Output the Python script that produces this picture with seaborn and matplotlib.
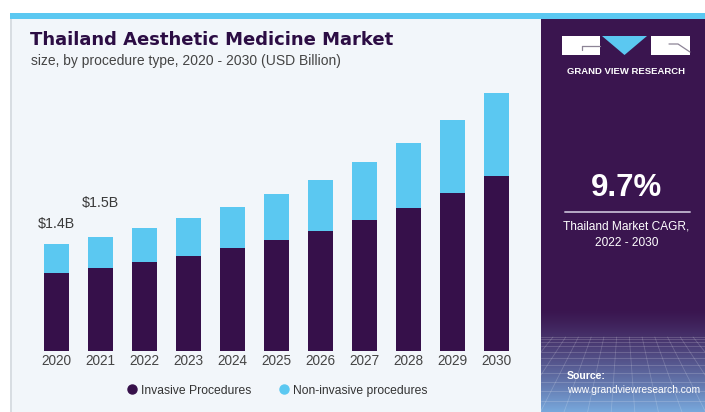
import numpy as np
import pandas as pd
import matplotlib
matplotlib.use("Agg")
import matplotlib.pyplot as plt
from matplotlib.patches import Rectangle, Polygon
from matplotlib.lines import Line2D
from matplotlib.colors import to_rgb
import seaborn as sns

# ---- data (USD Billion) ----
years = ["2020", "2021", "2022", "2023", "2024", "2025",
         "2026", "2027", "2028", "2029", "2030"]
invasive = [1.02, 1.09, 1.17, 1.25, 1.35, 1.46, 1.58, 1.72, 1.88, 2.08, 2.30]
non_invasive = [0.38, 0.41, 0.45, 0.50, 0.54, 0.60, 0.67, 0.76, 0.85, 0.96, 1.09]
series_names = ["Invasive Procedures", "Non-invasive procedures"]
value_labels = {"2020": "$1.4B", "2021": "$1.5B"}
cagr_text = "9.7%"
cagr_caption = "Thailand Market CAGR,\n2022 - 2030"

# ---- colours ----
DARK = "#36104a"
CYAN = "#5bc8f1"
PANEL = "#3a154f"
LIGHT_BG = "#f2f6fa"

sns.set_theme(style="white")
plt.rcParams["font.family"] = ["Liberation Sans", "DejaVu Sans"]

W, H = 705, 412
fig = plt.figure(figsize=(W / 100, H / 100), dpi=100)
fig.patch.set_facecolor("white")


def frac_box(x0, y0, x1, y1):
    """Pixel box measured from the top-left corner -> figure fraction rect."""
    return [x0 / W, 1 - y1 / H, (x1 - x0) / W, (y1 - y0) / H]


# background panels
fig.add_artist(Rectangle((10 / W, 0), (541 - 10) / W, (H - 19) / H,
                         transform=fig.transFigure, facecolor=LIGHT_BG,
                         edgecolor="none", zorder=-10))
fig.add_artist(Line2D([10.5 / W, 10.5 / W], [0, 1 - 19 / H],
                      transform=fig.transFigure, color="#d3d8de", lw=1.2,
                      zorder=-9))
fig.add_artist(Rectangle((10 / W, 1 - 19 / H), (W - 10) / W, 6 / H,
                         transform=fig.transFigure, facecolor=CYAN,
                         edgecolor="none", zorder=-8))

# ---- main stacked bar chart ----
df = pd.DataFrame({"year": years,
                   series_names[0]: invasive,
                   series_names[1]: non_invasive})
df["total"] = df[series_names[0]] + df[series_names[1]]

ax = fig.add_axes([34.2 / W, (H - 350.7) / H, 484 / W, 3.6 * 76 / H])
ax.set_facecolor("none")
sns.barplot(data=df, x="year", y="total", color=CYAN, saturation=1,
            width=0.576, linewidth=0, ax=ax)
sns.barplot(data=df, x="year", y=series_names[0], color=DARK, saturation=1,
            width=0.576, linewidth=0, ax=ax)
ax.set_xlim(-0.5, len(years) - 0.5)
ax.set_ylim(0, 3.6)
ax.set_yticks([])
ax.set_xlabel("")
ax.set_ylabel("")
sns.despine(ax=ax, left=True, bottom=True)
ax.tick_params(axis="x", length=0, pad=2.5, labelsize=9.8,
               labelcolor="#454545")

label_offsets = {"2020": 14.6, "2021": 24.5}
for yr, txt in value_labels.items():
    i = years.index(yr)
    ax.annotate(txt, (i, df["total"].iloc[i]), xytext=(0, label_offsets[yr]),
                textcoords="offset points", ha="center", va="center",
                fontsize=10.3, color="#3a3a3a")

# titles
fig.text(30 / W, 1 - 45 / H, "Thailand Aesthetic Medicine Market",
         fontsize=13, fontweight="bold", family="DejaVu Sans",
         color="#2c0d44", va="baseline")
fig.text(31 / W, 1 - 65.5 / H,
         "size, by procedure type, 2020 - 2030 (USD Billion)",
         fontsize=10, color="#444444", va="baseline")

# legend
handles = [Line2D([], [], marker="o", ls="", markersize=6.5,
                  markerfacecolor=c, markeredgecolor=c)
           for c in (DARK, CYAN)]
fig.legend(handles, series_names, loc="center",
           bbox_to_anchor=(277 / W, 1 - 390.7 / H), ncol=2, frameon=False,
           fontsize=8.7, handletextpad=0.25, columnspacing=2.2,
           handlelength=1.0, labelcolor="#333333")

# ---- right information panel ----
rp = fig.add_axes(frac_box(541, 19, 705, 412))
rp.set_xlim(0, 164)
rp.set_ylim(393, 0)
rp.axis("off")
rp.add_patch(Rectangle((0, 0), 164, 393, facecolor=PANEL, edgecolor="none",
                       zorder=0))

# bottom glow with perspective grid
ramp = np.linspace(0, 1, 200)[:, None] ** 1.25
c0, c1 = np.array(to_rgb(PANEL)), np.array(to_rgb("#78a8dc"))
img = c0[None, None, :] + (c1 - c0)[None, None, :] * ramp[:, :, None]
rp.imshow(img, extent=[0, 164, 393, 290], aspect="auto", zorder=1)
horizon = 318
for k in range(12):
    yy = horizon + 75 * (k / 11) ** 1.6
    rp.plot([0, 164], [yy, yy], color="white", lw=0.6, alpha=0.2, zorder=2)
vx, vy = 82, 230
for xb in np.linspace(-260, 424, 30):
    t0 = (horizon - vy) / (393 - vy)
    rp.plot([vx + (xb - vx) * t0, xb], [horizon, 393], color="white",
            lw=0.6, alpha=0.18, zorder=2)

# logo
logo_top, logo_bot = 17, 36
rp.add_patch(Rectangle((21, logo_top), 38, logo_bot - logo_top,
                       facecolor="white", edgecolor="none", zorder=3))
rp.plot([41, 59], [27, 27], color="#8d8496", lw=0.9, zorder=4)
rp.plot([41, 41], [27, 31], color="#8d8496", lw=0.9, zorder=4)
rp.add_patch(Polygon([[61, logo_top], [106, logo_top], [83.5, logo_bot]],
                     closed=True, facecolor=CYAN, edgecolor="none", zorder=3))
rp.add_patch(Rectangle((110, logo_top), 39, logo_bot - logo_top,
                       facecolor="white", edgecolor="none", zorder=3))
rp.plot([128, 137, 149], [25, 25, 33], color="#8d8496", lw=0.9, zorder=4)
rp.text(85, 52, "GRAND VIEW RESEARCH", color="white", fontsize=6.8,
        fontweight="bold", ha="center", va="center", zorder=5)

# CAGR block
rp.text(85.5, 169, cagr_text, color="white", fontsize=22.5, fontweight="bold",
        ha="center", va="center", zorder=5)
rp.plot([24, 149], [192.7, 192.7], color="#b7abc6", lw=1.4, zorder=5)
rp.text(85.5, 216, cagr_caption, color="white", fontsize=8.6,
        ha="center", va="center", linespacing=1.45, zorder=5)

# source
rp.text(26, 357, "Source:", color="white", fontsize=7.6, fontweight="bold",
        ha="left", va="center", zorder=5)
rp.text(26, 371, "www.grandviewresearch.com", color="white", fontsize=7.4,
        ha="left", va="center", zorder=5)

fig.savefig("out.png", dpi=100, facecolor=fig.get_facecolor())
